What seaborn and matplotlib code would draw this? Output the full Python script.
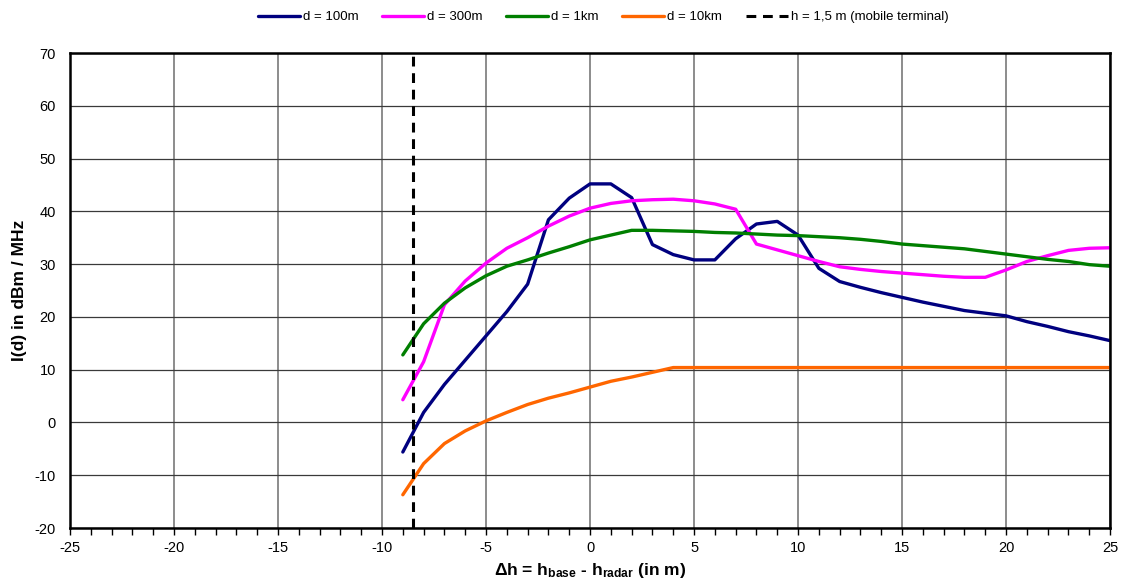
import numpy as np
import pandas as pd
import matplotlib
matplotlib.use("Agg")
import matplotlib.pyplot as plt
from matplotlib.lines import Line2D
from matplotlib.ticker import MultipleLocator
import seaborn as sns

# Height difference samples (m)
dh = list(range(-9, 26))

# Interference level I(d) in dBm/MHz for each distance
i_100m = [-5.6, 1.9, 7.2, 11.8, 16.4, 21.0, 26.2, 38.4, 42.5, 45.2,
          45.2, 42.6, 33.7, 31.8, 30.8, 30.8, 34.8, 37.6, 38.1, 35.5,
          29.2, 26.7, 25.6, 24.6, 23.7, 22.8, 22.0, 21.2, 20.7, 20.2,
          19.1, 18.2, 17.2, 16.4, 15.5]
i_300m = [4.3, 11.5, 22.3, 26.8, 30.2, 33.0, 35.0, 37.2, 39.1, 40.6,
          41.5, 42.0, 42.2, 42.3, 42.0, 41.4, 40.4, 33.8, 32.7, 31.6,
          30.5, 29.5, 29.0, 28.6, 28.3, 28.0, 27.7, 27.5, 27.5, 28.9,
          30.5, 31.6, 32.6, 33.0, 33.1]
i_1km = [12.8, 18.7, 22.6, 25.5, 27.8, 29.6, 30.8, 32.1, 33.3, 34.6,
         35.5, 36.4, 36.4, 36.3, 36.2, 36.0, 35.9, 35.7, 35.5, 35.4,
         35.2, 35.0, 34.7, 34.3, 33.8, 33.5, 33.2, 32.9, 32.4, 31.9,
         31.4, 30.9, 30.5, 29.9, 29.6]
i_10km = [-13.7, -7.8, -4.0, -1.6, 0.3, 1.9, 3.4, 4.6, 5.6, 6.7,
          7.8, 8.6, 9.5, 10.4, 10.4, 10.4, 10.4, 10.4, 10.4, 10.4,
          10.4, 10.4, 10.4, 10.4, 10.4, 10.4, 10.4, 10.4, 10.4, 10.4,
          10.4, 10.4, 10.4, 10.4, 10.4]

series_names = ["d = 100m", "d = 300m", "d = 1km", "d = 10km"]
series_colors = ["#00007F", "#FF00FF", "#007F00", "#FF6600"]

terminal_dh = -8.5
terminal_label = "h = 1,5 m (mobile terminal)"

df = pd.concat([
    pd.DataFrame({"dh": dh, "I": vals, "series": name})
    for name, vals in zip(series_names, [i_100m, i_300m, i_1km, i_10km])
])

sns.set_theme(style="white")
plt.rcParams["font.family"] = ["Liberation Sans", "DejaVu Sans"]
plt.rcParams["axes.unicode_minus"] = False
plt.rcParams["mathtext.fontset"] = "custom"
plt.rcParams["mathtext.rm"] = "Liberation Sans:bold"
plt.rcParams["mathtext.bf"] = "Liberation Sans:bold"
plt.rcParams["mathtext.it"] = "Liberation Sans:bold"
plt.rcParams["text.color"] = "black"
plt.rcParams["axes.labelcolor"] = "black"
plt.rcParams["xtick.color"] = "black"
plt.rcParams["ytick.color"] = "black"

fig = plt.figure(figsize=(11.27, 5.87), dpi=100)
ax = fig.add_axes([0.0621, 0.1005, 0.9229, 0.8092])

# grid: grey verticals, dark horizontals
ax.set_axisbelow(True)
ax.xaxis.grid(True, color="#8c8c8c", linewidth=1.4)
ax.yaxis.grid(True, color="#3a3a3a", linewidth=0.9)

sns.lineplot(data=df, x="dh", y="I", hue="series", hue_order=series_names,
             palette=series_colors, linewidth=2.4, legend=False, ax=ax)

ax.axvline(terminal_dh, color="black", linewidth=2.2, dashes=(3.2, 2.2))

ax.set_xlim(-25, 25)
ax.set_ylim(-20, 70)
ax.xaxis.set_major_locator(MultipleLocator(5))
ax.xaxis.set_minor_locator(MultipleLocator(1))
ax.yaxis.set_major_locator(MultipleLocator(10))

ax.tick_params(axis="x", which="both", direction="out", length=5, width=1,
               color="black", labelcolor="black", bottom=True,
               labelsize=10.5, pad=4)
ax.tick_params(axis="y", which="both", length=0, labelcolor="black",
               labelsize=10.5, pad=10)

for s in ax.spines.values():
    s.set_color("black")
    s.set_linewidth(1.8)

ax.set_xlabel(r"$\Delta$h = h$_{\mathrm{base}}$ - h$_{\mathrm{radar}}$ (in m)",
              fontsize=12.5, fontweight="bold", labelpad=5, color="black")
ax.set_ylabel("I(d) in dBm / MHz", fontsize=12.5, fontweight="bold",
              labelpad=6, color="black")

handles = [Line2D([], [], color=c, linewidth=2.4) for c in series_colors]
handles.append(Line2D([], [], color="black", linewidth=2.2, dashes=(3.2, 2.2)))
labels = series_names + [terminal_label]
fig.legend(handles, labels, loc="center", bbox_to_anchor=(0.535, 0.971),
           ncol=5, frameon=False, fontsize=9.5, handlelength=3.2,
           handletextpad=0.2, columnspacing=1.8, labelcolor="black")

fig.savefig("out.png", dpi=100)
